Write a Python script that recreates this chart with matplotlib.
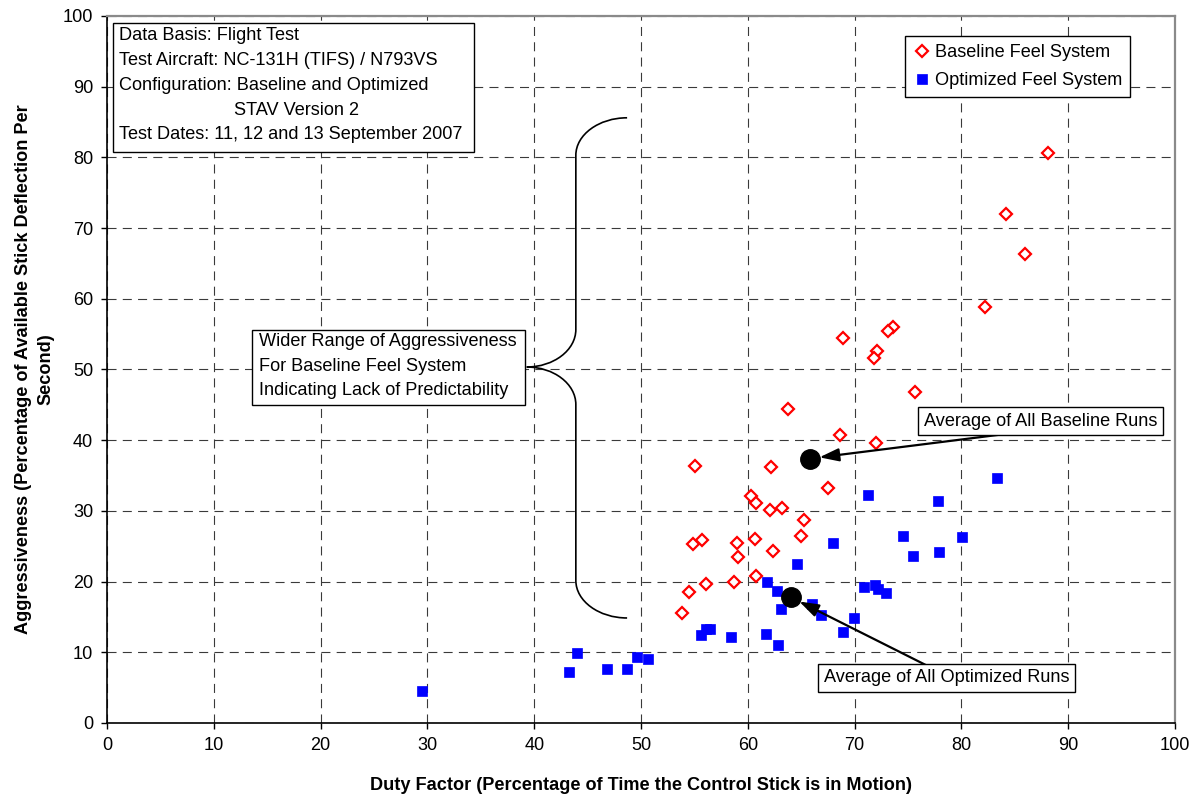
import matplotlib
matplotlib.use("Agg")
import matplotlib.pyplot as plt
from matplotlib.patches import Rectangle, PathPatch
from matplotlib.path import Path

plt.rcParams["font.family"] = ["Liberation Sans", "DejaVu Sans"]
plt.rcParams["font.size"] = 13.1
plt.rcParams["lines.scale_dashes"] = False

# Baseline feel system runs: duty factor (%) vs aggressiveness (%/s)
baseline_duty = [88.1, 84.2, 86.0, 82.2, 73.6, 73.1, 72.1, 71.8, 75.7, 72.0, 68.9,
                 63.8, 68.6, 55.1, 62.2, 67.5, 60.3, 60.8, 62.1, 63.2, 65.3, 65.0,
                 54.9, 55.7, 59.0, 59.1, 60.7, 62.4, 60.8, 56.1, 58.7, 54.5, 53.8]
baseline_aggr = [80.6, 72.0, 66.3, 58.8, 56.0, 55.4, 52.6, 51.6, 46.8, 39.6, 54.5,
                 44.4, 40.7, 36.4, 36.2, 33.3, 32.1, 31.1, 30.1, 30.4, 28.7, 26.4,
                 25.3, 25.9, 25.4, 23.5, 26.0, 24.3, 20.8, 19.7, 19.9, 18.5, 15.5]

# Optimized feel system runs
optimized_duty = [29.5, 43.3, 44.0, 46.8, 48.7, 49.6, 50.7, 55.6, 56.1, 56.5, 58.4,
                  61.7, 62.8, 61.8, 62.7, 63.1, 64.6, 66.0, 66.9, 68.9, 69.9, 68.0,
                  71.3, 70.9, 71.9, 72.2, 72.9, 74.5, 75.5, 77.8, 77.9, 80.1, 83.3]
optimized_aggr = [4.5, 7.2, 9.9, 7.6, 7.6, 9.3, 9.0, 12.4, 13.3, 13.3, 12.2,
                  12.6, 11.0, 20.0, 18.7, 16.1, 22.5, 16.8, 15.3, 12.9, 14.8, 25.4,
                  32.2, 19.3, 19.5, 18.9, 18.4, 26.4, 23.6, 31.4, 24.2, 26.3, 34.7]

# Run averages
baseline_avg = (65.8, 37.4)
optimized_avg = (64.0, 17.8)

info_lines = [
    "Data Basis: Flight Test",
    "Test Aircraft: NC-131H (TIFS) / N793VS",
    "Configuration: Baseline and Optimized",
    "STAV Version 2",
    "Test Dates: 11, 12 and 13 September 2007",
]
brace_lines = [
    "Wider Range of Aggressiveness",
    "For Baseline Feel System",
    "Indicating Lack of Predictability",
]

fig = plt.figure(figsize=(11.98, 8.0), dpi=100)
ax = fig.add_axes([0.0893, 0.0963, 0.8915, 0.8837])

ax.plot(baseline_duty, baseline_aggr, linestyle="none", marker="D", markersize=6.2,
        markerfacecolor="white", markeredgecolor="red", markeredgewidth=1.6,
        label="Baseline Feel System", zorder=4)
ax.plot(optimized_duty, optimized_aggr, linestyle="none", marker="s", markersize=7.7,
        markerfacecolor="#0000FF", markeredgecolor="#0000FF", markeredgewidth=0.5,
        label="Optimized Feel System", zorder=4)

for avg in (baseline_avg, optimized_avg):
    ax.plot(*avg, linestyle="none", marker="o", markersize=14, color="black", zorder=5)

ax.set_xlim(0, 100)
ax.set_ylim(0, 100)
ax.set_xticks(range(0, 101, 10))
ax.set_yticks(range(0, 101, 10))
ax.tick_params(direction="out", length=4, width=1, colors="black", labelsize=13.1, pad=6)
ax.grid(True, color="#3a3a3a", linewidth=0.8, linestyle=(0, (6.5, 4.5)))
ax.set_axisbelow(True)
for side in ("left", "bottom"):
    ax.spines[side].set_color("black")
    ax.spines[side].set_linewidth(1.2)
for side in ("top", "right"):
    ax.spines[side].set_color("#8a8a8a")
    ax.spines[side].set_linewidth(1.6)

ax.set_xlabel("Duty Factor (Percentage of Time the Control Stick is in Motion)",
              fontweight="bold", labelpad=17)
ax.set_ylabel("Aggressiveness (Percentage of Available Stick Deflection Per\nSecond)",
              fontweight="bold", labelpad=6, linespacing=1.45)

leg = ax.legend(loc="upper right", bbox_to_anchor=(0.958, 0.972), borderaxespad=0,
                fancybox=False, edgecolor="black", framealpha=1, handletextpad=0.2,
                handlelength=1.0, borderpad=0.45, labelspacing=0.6, fontsize=13.1)
leg.get_frame().set_linewidth(1.0)

# Test information block
ax.add_patch(Rectangle((0.56, 80.8), 33.8, 18.2, facecolor="white", edgecolor="black",
                       linewidth=1.0, zorder=3))
info_y = [97.3, 93.7, 90.2, 86.7, 83.2]
for i, (line, y) in enumerate(zip(info_lines, info_y)):
    x = 11.9 if i == 3 else 1.1
    ax.text(x, y, line, ha="left", va="center", zorder=4)

# Brace marking the spread of the baseline runs
bx, top, bot = 43.9, 85.6, 14.85
tip_x, tip_y = 39.3, 50.35
rx, ry = 4.8, 5.3
verts = [
    (bx + rx, top), (bx + rx * 0.45, top), (bx, top - ry * 0.45), (bx, top - ry),
    (bx, tip_y + ry),
    (bx, tip_y + ry * 0.45), (bx - (bx - tip_x) * 0.45, tip_y), (tip_x, tip_y),
    (bx - (bx - tip_x) * 0.45, tip_y), (bx, tip_y - ry * 0.45), (bx, tip_y - ry),
    (bx, bot + ry),
    (bx, bot + ry * 0.45), (bx + rx * 0.45, bot), (bx + rx, bot),
]
codes = [Path.MOVETO, Path.CURVE4, Path.CURVE4, Path.CURVE4,
         Path.LINETO,
         Path.CURVE4, Path.CURVE4, Path.CURVE4,
         Path.CURVE4, Path.CURVE4, Path.CURVE4,
         Path.LINETO,
         Path.CURVE4, Path.CURVE4, Path.CURVE4]
ax.add_patch(PathPatch(Path(verts, codes), facecolor="none", edgecolor="black",
                       linewidth=1.2, zorder=3))

ax.add_patch(Rectangle((13.6, 45.0), 25.5, 10.6, facecolor="white", edgecolor="black",
                       linewidth=1.0, zorder=3))
for line, y in zip(brace_lines, [53.9, 50.4, 47.0]):
    ax.text(14.2, y, line, ha="left", va="center", zorder=4)

arrow = dict(arrowstyle="-|>,head_length=0.9,head_width=0.3", color="black", lw=1.6,
             shrinkA=0, shrinkB=7, patchA=None)
ax.annotate("Average of All Baseline Runs", xy=baseline_avg, xytext=(87.4, 42.7),
            ha="center", va="center", zorder=6,
            bbox=dict(boxstyle="square,pad=0.3", facecolor="white", edgecolor="black", lw=1.0),
            arrowprops=dict(arrow, relpos=(0.5, 0.0)))
ax.annotate("Average of All Optimized Runs", xy=optimized_avg, xytext=(78.6, 6.4),
            ha="center", va="center", zorder=6,
            bbox=dict(boxstyle="square,pad=0.3", facecolor="white", edgecolor="black", lw=1.0),
            arrowprops=dict(arrow, relpos=(0.45, 1.0)))

fig.savefig("out.png", dpi=100)
